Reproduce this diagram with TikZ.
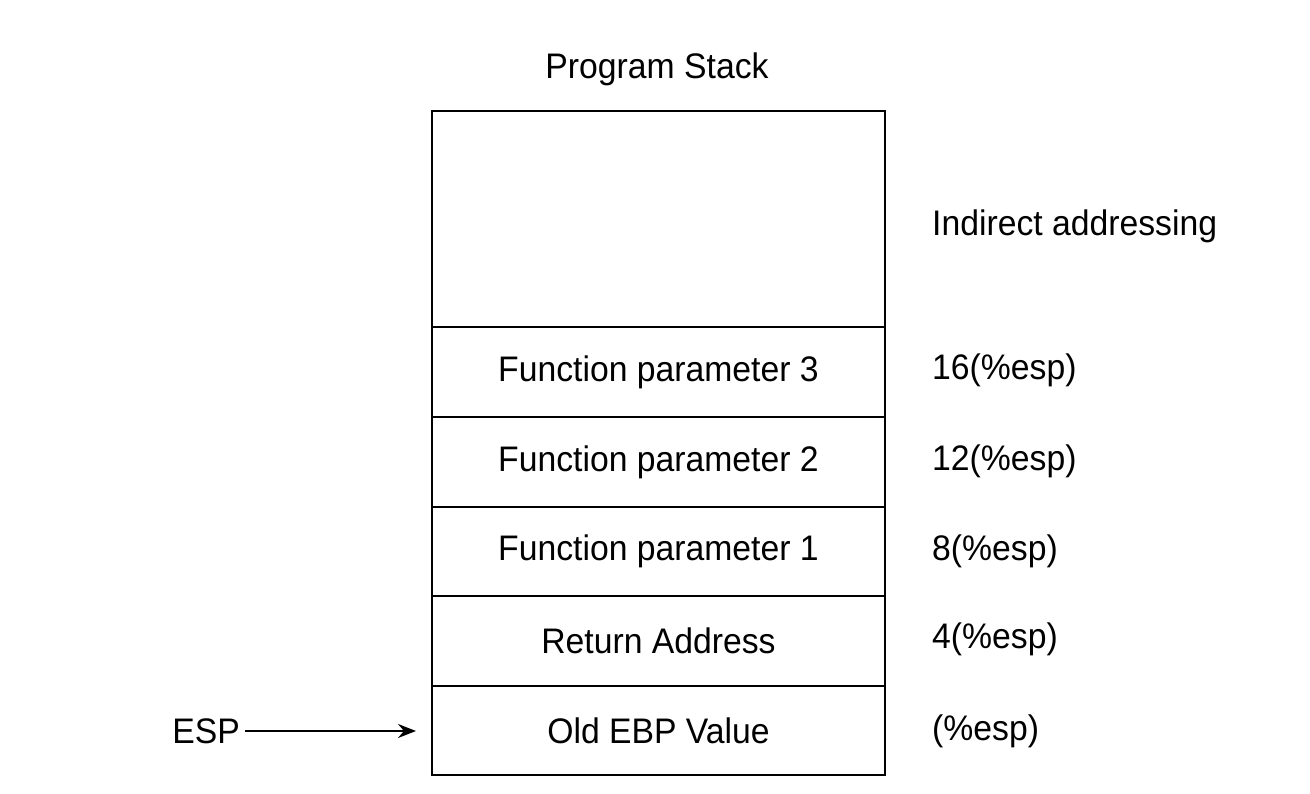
\documentclass[tikz,border=0pt]{standalone}
\usepackage{fontspec}
\setmainfont{Liberation Sans}[FakeStretch=0.95]
\usetikzlibrary{arrows.meta}
\begin{document}
\begin{tikzpicture}[x=1pt,y=-1pt,
  txt/.style={font=\fontsize{35.5}{40}\selectfont},
  cell/.style={draw,line width=2pt,minimum width=453pt,anchor=north west,inner sep=0pt,txt},
  lbl/.style={anchor=west,inner sep=0pt,txt},
  arr/.style={line width=2pt,-{Stealth[length=18pt,width=14pt,inset=6pt]}}]
\useasboundingbox (0,0) rectangle (1310,794);
\node[txt,inner sep=0pt] (title) at (657,69) {Program Stack};
\node[cell,minimum height=216pt] (top) at (431,110) {};
\node[cell,minimum height=90pt] (p3) at (431,326) {Function parameter 3};
\node[cell,minimum height=90pt] (p2) at (431,416) {Function parameter 2};
\node[cell,minimum height=89pt] (p1) at (431,506) {Function parameter 1};
\node[cell,minimum height=90pt] (ra) at (431,595) {Return Address};
\node[cell,minimum height=89pt] (ebp) at (431,685) {Old EBP Value};
\node[lbl] (ia) at (932,226) {Indirect addressing};
\node[lbl] (l16) at (932,370) {16(\%esp)};
\node[lbl] (l12) at (932,461) {12(\%esp)};
\node[lbl] (l8) at (932,551) {8(\%esp)};
\node[lbl] (l4) at (932,639) {4(\%esp)};
\node[lbl] (l0) at (932,731) {(\%esp)};
\node[lbl,anchor=east] (esp) at (240,731) {ESP};
\coordinate (s) at ([xshift=5pt]esp.east);
\coordinate (e) at ([xshift=-15pt]ebp.west);
\draw[arr] (s) -- (s -| e);
\end{tikzpicture}
\end{document}
